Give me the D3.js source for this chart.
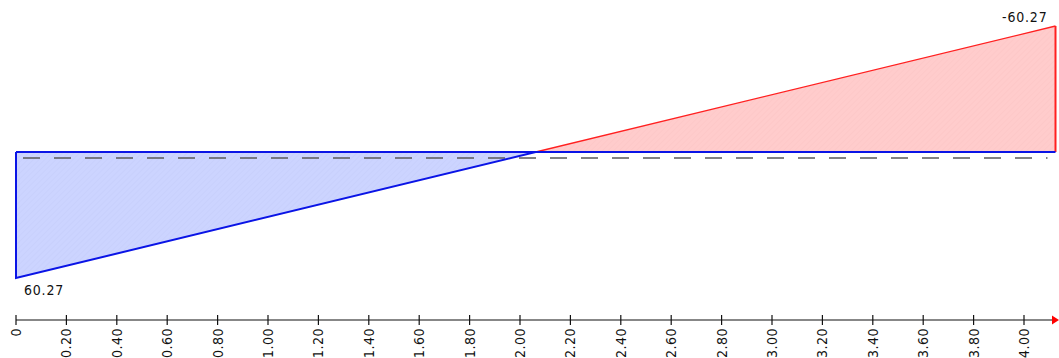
<!DOCTYPE html>
<html>
<head>
<meta charset="utf-8">
<script src="https://cdn.jsdelivr.net/npm/d3@7"></script>
<style>
	body { margin: 0; background: #fff; }
	text { font-family: "Liberation Sans Narrow", "DejaVu Sans Condensed", sans-serif; fill: #111; }
</style>
</head>
<body>
<div id="chart-area"></div>
<script>

// beam positions (m) and shear values
let positions = [0, 2.0625, 4.125];
let values = [60.27, 0, -60.27];
let valueLabels = ["60.27", "-60.27"];
let tickValues = d3.range(0, 21).map(i => i * 0.2);

let width = 1059, height = 358;

let svg = d3.select("#chart-area").append("svg")
	.attr("width", width)
	.attr("height", height);

// scales
let x = d3.scaleLinear().domain([0, 4]).range([16, 1024]);
let y = d3.scaleLinear().domain([-60.27, 60.27]).range([26, 278]);

// hatch patterns
let defs = svg.append("defs");
function hatch(id, bg, fg) {
	let p = defs.append("pattern")
		.attr("id", id)
		.attr("patternUnits", "userSpaceOnUse")
		.attr("width", 4).attr("height", 4)
		.attr("patternTransform", "rotate(45)");
	p.append("rect").attr("width", 4).attr("height", 4).attr("fill", bg);
	p.append("line").attr("x1", 0).attr("y1", 0).attr("x2", 0).attr("y2", 4)
		.attr("stroke", fg).attr("stroke-width", 1);
}
hatch("hatchBlue", "#ccd4ff", "#c4ccfa");
hatch("hatchRed", "#ffcccc", "#fbc4c4");

// positive part (blue), negative part (red)
let blue = [[positions[0], 0], [positions[0], values[0]], [positions[1], values[1]]];
let red = [[positions[1], values[1]], [positions[2], values[2]], [positions[2], 0]];

let line = d3.line().x(d => x(d[0])).y(d => y(d[1]));

svg.append("path")
	.attr("d", line(blue) + "Z")
	.attr("fill", "url(#hatchBlue)");

svg.append("path")
	.attr("d", line(red) + "Z")
	.attr("fill", "url(#hatchRed)");

// dashed reference line
svg.append("line")
	.attr("x1", x(0) + 7).attr("x2", x(positions[2]) - 8)
	.attr("y1", y(0) + 6).attr("y2", y(0) + 6)
	.attr("stroke", "#5a5a5a")
	.attr("stroke-width", 1.5)
	.attr("stroke-dasharray", "17,14");

// outlines
svg.append("path")
	.attr("d", line(red.slice(0, 2)))
	.attr("fill", "none")
	.attr("stroke", "#ff2020")
	.attr("stroke-width", 1.3);

svg.append("path")
	.attr("d", line(red.slice(1)))
	.attr("fill", "none")
	.attr("stroke", "#ff2020")
	.attr("stroke-width", 2);

svg.append("path")
	.attr("d", line(blue))
	.attr("fill", "none")
	.attr("stroke", "#0a14e6")
	.attr("stroke-width", 2);

svg.append("line")
	.attr("x1", x(positions[0])).attr("x2", x(positions[2]))
	.attr("y1", y(0)).attr("y2", y(0))
	.attr("stroke", "#0a14e6")
	.attr("stroke-width", 2);

// value labels
svg.append("text")
	.attr("x", x(positions[0]) + 8)
	.attr("y", y(values[0]) + 17)
	.style("font-size", "14px")
	.style("letter-spacing", "0.8px")
	.text(valueLabels[0]);

svg.append("text")
	.attr("x", x(positions[2]) - 8)
	.attr("y", y(values[2]) - 4)
	.style("text-anchor", "end")
	.style("font-size", "14px")
	.style("letter-spacing", "0.8px")
	.text(valueLabels[1]);

// x axis
let axisY = 320;
let axis = svg.append("g").attr("transform", "translate(0," + axisY + ")");

axis.append("line")
	.attr("x1", x(0)).attr("x2", 1054)
	.attr("stroke", "#111").attr("stroke-width", 1.2);

axis.append("path")
	.attr("d", "M1052,-4.5 L1059,0 L1052,4.5 Z")
	.attr("fill", "#ff0000");

let ticks = axis.selectAll("g.tick")
	.data(tickValues)
	.enter()
	.append("g")
	.attr("class", "tick")
	.attr("transform", d => "translate(" + x(d) + ",0)");

ticks.append("line")
	.attr("y1", -5).attr("y2", 5)
	.attr("stroke", "#111").attr("stroke-width", 1.2);

ticks.append("text")
	.attr("transform", "rotate(-90)")
	.attr("x", -8)
	.attr("y", 5)
	.style("text-anchor", "end")
	.style("font-size", "14px")
	.style("letter-spacing", "0.5px")
	.text(d => d === 0 ? "0" : d3.format(".2f")(d));

</script>
</body>
</html>
